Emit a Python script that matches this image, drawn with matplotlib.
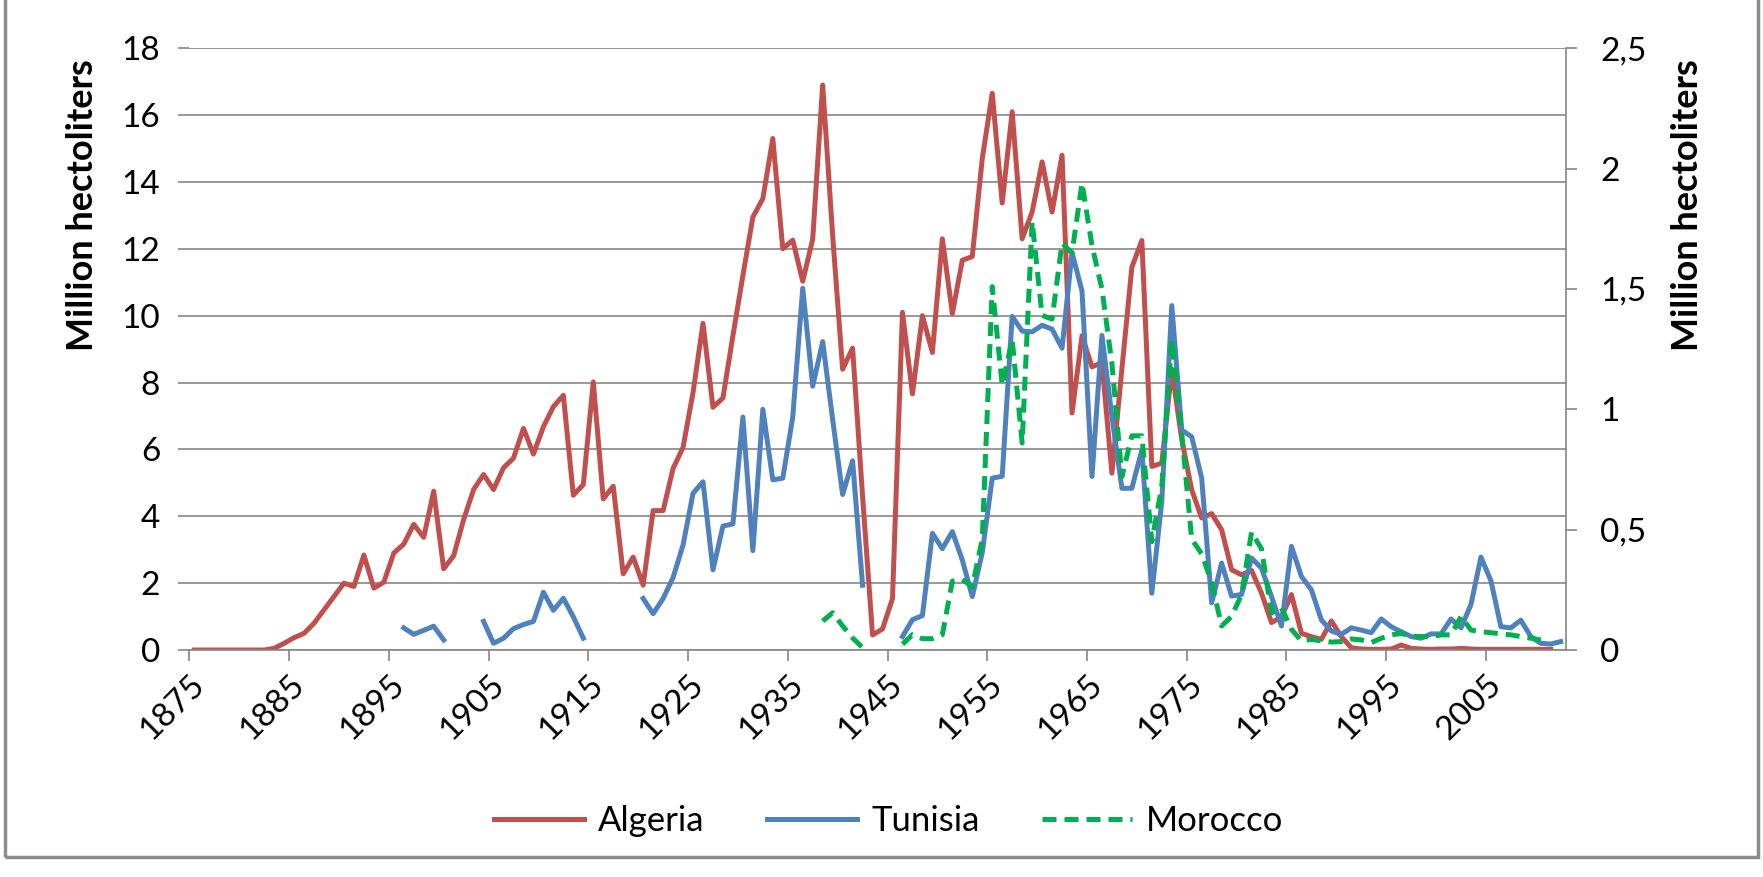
import numpy as np
import matplotlib
matplotlib.use('Agg')
import matplotlib.pyplot as plt
from matplotlib.patches import Rectangle

plt.rcParams['font.family'] = ['Lato', 'DejaVu Sans']

# ---------------- data (million hectoliters) ----------------
algeria_start = 1875
algeria = [
    0, 0, 0, 0, 0, 0, 0, 0, 0.05, 0.2,
    0.37, 0.5, 0.8, 1.2, 1.6, 2.0, 1.9, 2.84, 1.85, 2.03,
    2.9, 3.17, 3.76, 3.37, 4.75, 2.43, 2.82, 3.9, 4.8, 5.25,
    4.8, 5.45, 5.74, 6.63, 5.86, 6.68, 7.28, 7.62, 4.63, 4.95,
    8.02, 4.52, 4.9, 2.28, 2.78, 1.94, 4.17, 4.17, 5.43, 6.06,
    7.7, 9.77, 7.26, 7.54, 9.4, 11.2, 12.95, 13.5, 15.3, 12.0,
    12.26, 11.03, 12.29, 16.9, 12.4, 8.4, 9.03, 4.6, 0.45, 0.63,
    1.54, 10.1, 7.66, 10.0, 8.9, 12.3, 10.06, 11.66, 11.77, 14.7,
    16.65, 13.37, 16.1, 12.3, 13.1, 14.6, 13.1, 14.8, 7.09, 9.4,
    8.47, 8.6, 5.29, 8.4, 11.45, 12.25, 5.49, 5.59, 8.4, 6.3,
    4.79, 3.95, 4.08, 3.6, 2.4, 2.25, 2.38, 1.7, 0.82, 0.99,
    1.66, 0.5, 0.4, 0.32, 0.87, 0.4, 0.07, 0.03, 0.02, 0.02,
    0.03, 0.15, 0.05, 0.03, 0.02, 0.03, 0.03, 0.05, 0.03, 0.02,
    0.02, 0.02, 0.02, 0.02, 0.02, 0.02, 0.02,
]

# right axis
tunisia_start = 1896
tunisia = [
    0.092, 0.065, 0.082, 0.099, 0.042,                      # 1896-1900
    None, None, None,
    0.119, 0.028, 0.049, 0.089, 0.106, 0.119, 0.240, 0.165,  # 1904-1911
    0.215, 0.138, 0.049,                                     # 1912-1914
    None, None, None, None, None,
    0.214, 0.151, 0.214, 0.301, 0.436, 0.651, 0.699, 0.333,  # 1920-1927
    0.515, 0.524, 0.968, 0.413, 1.000, 0.707, 0.714, 0.968,  # 1928-1935
    1.503, 1.096, 1.281, 0.958, 0.646, 0.786, 0.269,         # 1936-1942
    None, None, None,
    0.056, 0.126, 0.143, 0.485, 0.421, 0.492, 0.374, 0.222,  # 1946-1953
    0.404, 0.714, 0.722, 1.386, 1.325, 1.322, 1.349, 1.333,  # 1954-1961
    1.254, 1.651, 1.492, 0.721, 1.307, 0.97, 0.672, 0.672,   # 1962-1969
    0.831, 0.236, 0.617, 1.431, 0.914, 0.886, 0.714, 0.196,  # 1970-1977
    0.361, 0.224, 0.231, 0.382, 0.340, 0.222, 0.100, 0.431,  # 1978-1985
    0.306, 0.250, 0.125, 0.079, 0.065, 0.092, 0.083, 0.072,  # 1986-1993
    0.129, 0.097, 0.076, 0.056, 0.049, 0.067, 0.067, 0.129,  # 1994-2001
    0.092, 0.189, 0.386, 0.288, 0.097, 0.092, 0.124, 0.056,  # 2002-2009
    0.028, 0.025, 0.035,                                     # 2010-2012
]

morocco_start = 1938
morocco = [
    0.12, 0.155, 0.10, 0.05, 0.01,                           # 1938-1942
    None, None, None,
    0.024, 0.064, 0.047, 0.047, 0.064, 0.286, 0.293, 0.263,  # 1946-1953
    0.46, 1.51, 1.10, 1.29, 0.86, 1.78, 1.39, 1.375,         # 1954-1961
    1.69, 1.65, 1.94, 1.68, 1.50, 1.19, 0.72, 0.89,          # 1962-1969
    0.89, 0.45, 0.68, 1.29, 0.90, 0.46, 0.40, 0.28,          # 1970-1977
    0.10, 0.14, 0.23, 0.49, 0.42, 0.154, 0.175, 0.086,       # 1978-1985
    0.038, 0.044, 0.038, 0.033, 0.035, 0.046, 0.042, 0.031,  # 1986-1993
    0.049, 0.063, 0.069, 0.058, 0.056, 0.056, 0.063, 0.063,  # 1994-2001
    0.139, 0.083, 0.076, 0.072, 0.067, 0.063, 0.056, 0.049,  # 2002-2009
    0.042,                                                   # 2010
]

x_ticks = list(range(1875, 2006, 10))
left_ticks = list(range(0, 19, 2))
right_ticks = [0, 0.5, 1, 1.5, 2, 2.5]
right_labels = ['0', '0,5', '1', '1,5', '2', '2,5']


def series(start, values):
    y = np.array([np.nan if v is None else v for v in values], dtype=float)
    x = np.arange(start, start + len(y)) + 0.5  # category centres
    return x, y


GRAY = '#868686'
RED = '#C0504D'
BLUE = '#4F81BD'
GREEN = '#00B050'

fig = plt.figure(figsize=(17.63, 8.77), dpi=100)
ax = fig.add_axes([0.1074, 0.2588, 0.7807, 0.6862])
ax2 = ax.twinx()

xa, ya = series(algeria_start, algeria)
xt, yt = series(tunisia_start, tunisia)
xm, ym = series(morocco_start, morocco)

l1, = ax.plot(xa, ya, color=RED, lw=3.6, label='Algeria', solid_joinstyle='round')
l2, = ax2.plot(xt, yt, color=BLUE, lw=3.6, label='Tunisia', solid_joinstyle='round')
l3, = ax2.plot(xm, ym, color=GREEN, lw=3.6, ls=(0, (2.8, 1.6)), label='Morocco')

ax.set_xlim(1875, 2013)
ax.set_ylim(0, 18)
ax2.set_ylim(0, 2.5)

ax.set_yticks(left_ticks)
ax.set_yticklabels([str(t) for t in left_ticks])
ax2.set_yticks(right_ticks)
ax2.set_yticklabels(right_labels)
ax.set_xticks(x_ticks)
ax.set_xticklabels([str(t) for t in x_ticks], rotation=45, ha='right', va='top',
                   rotation_mode='anchor')

ax.yaxis.grid(True, color=GRAY, lw=1.2)
ax.set_axisbelow(True)

for s in ['left', 'top', 'right']:
    ax.spines[s].set_visible(False)
for s in ['left', 'top', 'bottom']:
    ax2.spines[s].set_visible(False)
ax.spines['bottom'].set_color(GRAY)
ax.spines['bottom'].set_linewidth(1.2)
ax2.spines['right'].set_color(GRAY)
ax2.spines['right'].set_linewidth(1.2)

ax.tick_params(axis='y', length=8, width=1.2, color=GRAY, labelsize=24, pad=13)
ax.tick_params(axis='x', length=8, width=1.2, color=GRAY, labelsize=24, pad=6)
ax2.tick_params(axis='y', length=8, width=1.2, color=GRAY, labelsize=24, pad=17)

fig.text(0.047, 0.766, 'Million hectoliters', rotation=90, ha='center', va='center',
         fontsize=26, fontweight='bold')
fig.text(0.957, 0.766, 'Million hectoliters', rotation=90, ha='center', va='center',
         fontsize=26, fontweight='bold')

fig.legend(handles=[l1, l2, l3], loc='center', bbox_to_anchor=(0.504, 0.064), ncol=3,
           frameon=False, fontsize=25, handlelength=2.6, handletextpad=0.4,
           columnspacing=1.8)

fig.patches.append(Rectangle((0.003, 0.023), 0.994, 1.2, transform=fig.transFigure,
                             fill=False, ec='#8c8c8c', lw=2.5))

fig.savefig('out.png', dpi=100)
